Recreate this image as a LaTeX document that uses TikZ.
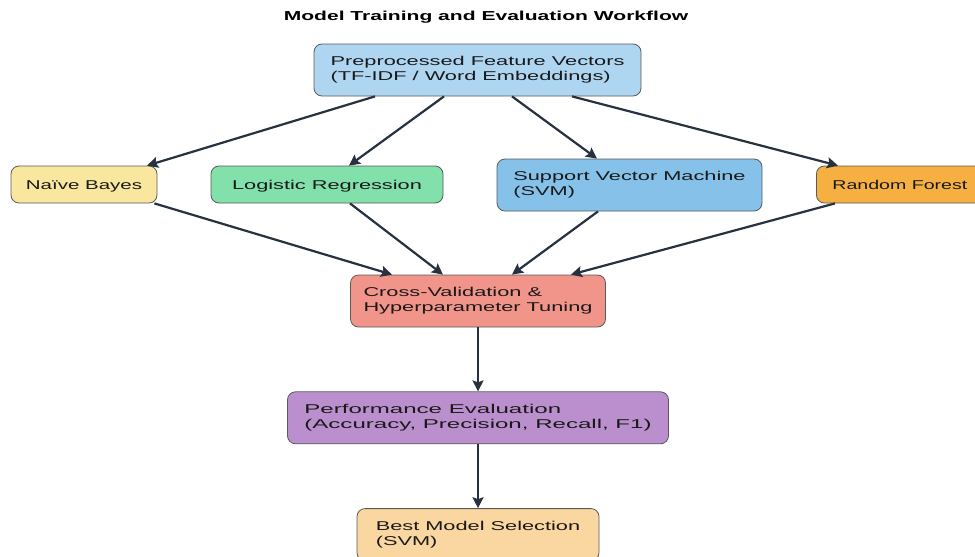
\documentclass[tikz,border=0pt]{standalone}
\usepackage{fontspec}
\setmainfont{Liberation Sans}[FakeStretch=1.7]
\newfontfamily\titlefont{Liberation Sans}[FakeStretch=1.62]
\usetikzlibrary{arrows.meta,positioning}

\definecolor{inputblue}{HTML}{AED6F1}
\definecolor{nbyellow}{HTML}{F9E79F}
\definecolor{lrgreen}{HTML}{82E0AA}
\definecolor{svmblue}{HTML}{85C1E9}
\definecolor{rforange}{HTML}{F5B041}
\definecolor{cvred}{HTML}{F1948A}
\definecolor{evalpurple}{HTML}{BB8FCE}
\definecolor{bestpeach}{HTML}{FAD7A0}
\definecolor{edgegray}{HTML}{5A5A5A}
\definecolor{arrowdark}{HTML}{26323F}

\begin{document}
\begin{tikzpicture}[x=1pt,y=1pt,node distance=64pt,
  stage/.style={draw=edgegray,line width=0.8pt,rounded corners=8pt,
    inner xsep=16pt,inner ysep=0pt,minimum height=37pt,
    text height=12pt,text depth=3pt,
    font=\fontsize{12.8}{15}\selectfont,text=black!90},
  twoline/.style={draw=edgegray,line width=0.8pt,rounded corners=8pt,
    inner xsep=16pt,inner ysep=0pt,minimum height=52pt,align=left,
    font=\fontsize{12.8}{15}\selectfont,text=black!90},
  flow/.style={line width=2.2pt,draw=arrowdark,
    -{Stealth[length=11pt,width=11pt,inset=2pt]}}]
  \useasboundingbox (0,0) rectangle (975,-557);
  \clip (0,0) rectangle (975,-557);

  \node[font=\titlefont\bfseries\fontsize{13}{15}\selectfont] (title)
    at (486,-17) {Model Training and Evaluation Workflow};

  % input features
  \node[twoline,fill=inputblue,minimum width=327pt] (features) at (477.5,-70)
    {Preprocessed Feature Vectors\\(TF-IDF / Word Embeddings)};

  % the four classifiers
  \node[stage,fill=nbyellow,minimum width=146pt,inner xsep=12pt,
    font=\fontsize{12.8}{15}\selectfont\addfontfeature{FakeStretch=1.6}]
    (bayes) at (84,-184.5) {Naïve Bayes};
  \node[stage,fill=lrgreen,minimum width=232pt] (logreg) at (327,-184.5)
    {Logistic Regression};
  \node[twoline,fill=svmblue,minimum width=265pt] (svm) at (629.5,-185)
    {Support Vector Machine\\(SVM)};
  \node[stage,fill=rforange,anchor=west,
    font=\fontsize{12.8}{15}\selectfont\addfontfeature{FakeStretch=1.53}]
    (forest) at (816,-184.5) {Random Forest};

  % tuning and evaluation chain
  \node[twoline,fill=cvred,minimum width=254pt,inner xsep=13pt] (tuning)
    at (478,-301) {Cross-Validation \&\\Hyperparameter Tuning};
  \node[twoline,fill=evalpurple,minimum width=381pt,inner xsep=14pt,
    font=\fontsize{12.8}{15}\selectfont\addfontfeature{FakeStretch=1.88},
    below=of tuning] (evaluation)
    {Performance Evaluation\\(Accuracy, Precision, Recall, F1)};
  \node[twoline,fill=bestpeach,minimum width=242pt,below=of evaluation] (best)
    {Best Model Selection\\(SVM)};

  \draw[flow] ([xshift=-102.5pt]features.south) -- ([xshift=63pt]bayes.north);
  \draw[flow] ([xshift=-33.5pt]features.south) -- ([xshift=22pt]logreg.north);
  \draw[flow] ([xshift=34.5pt]features.south) -- ([xshift=-32.5pt]svm.north);
  \draw[flow] ([xshift=94.5pt]features.south) -- ([xshift=22pt]forest.north west);

  \draw[flow] ([xshift=-3pt]bayes.south east) -- ([xshift=-86pt]tuning.north);
  \draw[flow] ([xshift=23pt]logreg.south) -- ([xshift=-35pt]tuning.north);
  \draw[flow] ([xshift=-31.5pt]svm.south) -- ([xshift=34pt]tuning.north);
  \draw[flow] ([xshift=19pt]forest.south west) -- ([xshift=93pt]tuning.north);

  \draw[flow] (tuning) -- (evaluation);
  \draw[flow] (evaluation) -- (best);
\end{tikzpicture}
\end{document}
